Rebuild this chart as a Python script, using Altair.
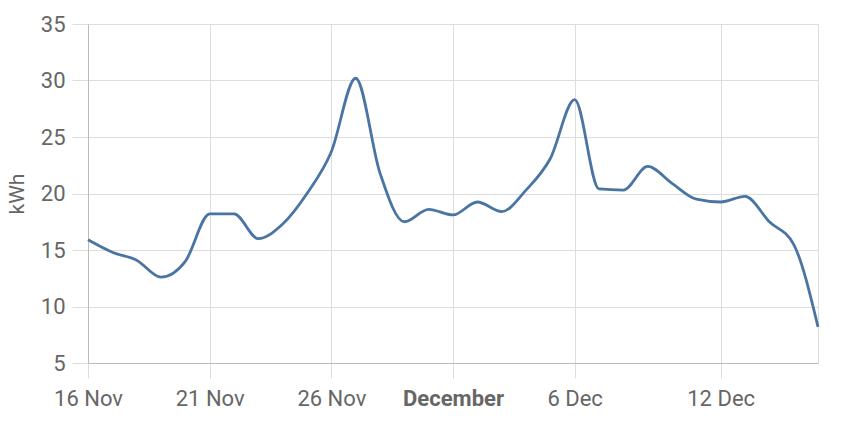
import altair as alt
import pandas as pd

dates = pd.date_range("2023-11-16", "2023-12-16", freq="D").strftime("%Y-%m-%d").tolist()
kwh = [15.9, 14.8, 14.1, 12.6, 14.0, 18.2, 18.2, 16.0, 17.3, 20.0, 23.7, 30.2,
       21.8, 17.5, 18.6, 18.1, 19.25, 18.4, 20.3, 23.1, 28.3, 20.4, 20.3, 22.4,
       20.9, 19.5, 19.25, 19.75, 17.5, 15.5, 8.2]
tick_dates = [(2023, 11, 16), (2023, 11, 21), (2023, 11, 26), (2023, 12, 1), (2023, 12, 6), (2023, 12, 12)]
y_ticks = [5, 10, 15, 20, 25, 30, 35]

df = pd.DataFrame({"date": dates, "kwh": kwh})

label_color = "#666666"
font = "Roboto"

x_axis = alt.Axis(
    values=[alt.DateTime(year=y, month=m, date=d, utc=True) for (y, m, d) in tick_dates],
    labelExpr="utcdate(datum.value) == 1 ? utcFormat(datum.value, '%B') : utcFormat(datum.value, '%-d %b')",
    labelFontWeight=alt.condition("utcdate(datum.value) == 1", alt.value("bold"), alt.value("normal")),
    title=None,
    grid=True,
    gridColor="#dddddd",
    domainColor="#bbbbbb",
    tickColor="#dddddd",
    tickSize=15,
    labelPadding=10,
    labelFont=font,
    labelFontSize=22,
    labelColor=label_color,
    labelFlush=False,
    labelOverlap=False,
)

y_axis = alt.Axis(
    values=y_ticks,
    title="kWh",
    grid=True,
    gridColor="#dddddd",
    domainColor="#bbbbbb",
    tickColor="#dddddd",
    tickSize=16,
    labelPadding=7,
    labelFont=font,
    labelFontSize=22,
    labelColor=label_color,
    titleFont=font,
    titleFontSize=21,
    titleFontWeight="normal",
    titleColor=label_color,
    titlePadding=13,
)

chart = alt.Chart(df).mark_line(
    interpolate="monotone", color="#4a74a3", strokeWidth=2.8
).encode(
    x=alt.X("date:T", scale=alt.Scale(type="utc", nice=False), axis=x_axis),
    y=alt.Y("kwh:Q", scale=alt.Scale(domain=[5, 35], nice=False, zero=False), axis=y_axis),
).properties(
    width=730,
    height=339,
    autosize=alt.AutoSizeParams(type="none"),
    padding={"left": 80, "top": 16, "right": 27, "bottom": 55},
).configure_view(stroke=None).configure(background="white")

chart.save("out.html", embed_options={"renderer": "svg", "actions": False})
